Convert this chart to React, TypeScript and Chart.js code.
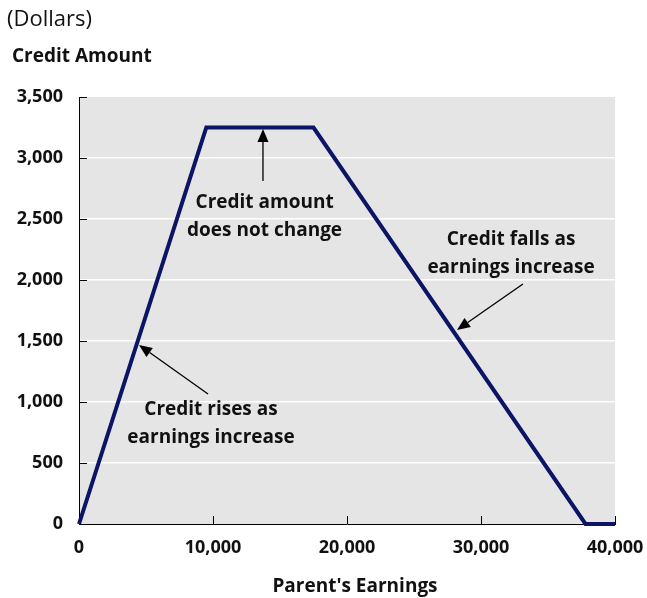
import React, { useEffect, useRef } from "react";
import { Chart, registerables } from "chart.js";

Chart.register(...registerables);

// Data: parent's earnings (x) vs credit amount (y)
const earnings = [0, 9500, 17500, 37800, 40000];
const credit = [0, 3250, 3250, 0, 0];

const xTicks = [0, 10000, 20000, 30000, 40000];
const yTicks = [0, 500, 1000, 1500, 2000, 2500, 3000, 3500];

const unitLabel = "(Dollars)";
const yTitle = "Credit Amount";
const xTitle = "Parent's Earnings";

// Annotations in data coordinates
const noteLines = [
  ["Credit amount", "does not change"],
  ["Credit rises as", "earnings increase"],
  ["Credit falls as", "earnings increase"],
];
const noteAt = [
  [13850, 2631],
  [9850, 934],
  [32240, 2328],
];
const arrowFrom = [
  [13730, 2811],
  [9630, 1066],
  [33130, 1967],
];
const arrowTo = [
  [13730, 3238],
  [4480, 1467],
  [28210, 1590],
];

const FONT = "'Open Sans', sans-serif";
const LINE_COLOR = "#0a1566";

const decorPlugin = {
  id: "decor",
  beforeDraw(chart: any) {
    const { ctx, chartArea } = chart;
    ctx.save();
    ctx.fillStyle = "#e5e5e5";
    ctx.fillRect(chartArea.left, chartArea.top, chartArea.right - chartArea.left, chartArea.bottom - chartArea.top);
    ctx.restore();
  },
  afterDraw(chart: any) {
    const { ctx, chartArea, scales } = chart;
    const xs = scales.x;
    const ys = scales.y;
    ctx.save();
    // inside tick marks
    ctx.strokeStyle = "#000";
    ctx.lineWidth = 1;
    xTicks.forEach((v) => {
      if (v === 0) return;
      const px = Math.round(xs.getPixelForValue(v)) + 0.5;
      ctx.beginPath();
      ctx.moveTo(px, chartArea.bottom);
      ctx.lineTo(px, chartArea.bottom - 8);
      ctx.stroke();
    });
    yTicks.forEach((v) => {
      if (v === 0) return;
      const py = Math.round(ys.getPixelForValue(v)) + 0.5;
      ctx.beginPath();
      ctx.moveTo(chartArea.left, py);
      ctx.lineTo(chartArea.left + 8, py);
      ctx.stroke();
    });

    // titles
    ctx.fillStyle = "#111";
    ctx.textBaseline = "middle";
    ctx.textAlign = "left";
    ctx.font = `400 22px ${FONT}`;
    ctx.fillText(unitLabel, 7, 20);
    ctx.font = `700 19px ${FONT}`;
    ctx.fillText(yTitle, 12, 57);
    ctx.textAlign = "center";
    ctx.fillText(xTitle, 355, 587);

    // annotations
    ctx.font = `700 19px ${FONT}`;
    noteLines.forEach((lines, i) => {
      const cx = xs.getPixelForValue(noteAt[i][0]);
      const cy = ys.getPixelForValue(noteAt[i][1]);
      lines.forEach((t, j) => ctx.fillText(t, cx, cy + j * 28));
      const x1 = xs.getPixelForValue(arrowFrom[i][0]);
      const y1 = ys.getPixelForValue(arrowFrom[i][1]);
      const x2 = xs.getPixelForValue(arrowTo[i][0]);
      const y2 = ys.getPixelForValue(arrowTo[i][1]);
      const ang = Math.atan2(y2 - y1, x2 - x1);
      const head = 13;
      const hw = 5.5;
      const bx = x2 - head * Math.cos(ang);
      const by = y2 - head * Math.sin(ang);
      ctx.strokeStyle = "#000";
      ctx.lineWidth = 1.3;
      ctx.beginPath();
      ctx.moveTo(x1, y1);
      ctx.lineTo(bx, by);
      ctx.stroke();
      ctx.fillStyle = "#000";
      ctx.beginPath();
      ctx.moveTo(x2, y2);
      ctx.lineTo(bx + hw * Math.sin(ang), by - hw * Math.cos(ang));
      ctx.lineTo(bx - hw * Math.sin(ang), by + hw * Math.cos(ang));
      ctx.closePath();
      ctx.fill();
      ctx.fillStyle = "#111";
    });
    ctx.restore();
  },
};

export default function App() {
  const ref = useRef<HTMLCanvasElement | null>(null);
  useEffect(() => {
    if (!ref.current) return;
    const chart = new Chart(ref.current, {
      type: "line",
      data: {
        datasets: [
          {
            data: earnings.map((x, i) => ({ x, y: credit[i] })),
            borderColor: LINE_COLOR,
            borderWidth: 4,
            pointRadius: 0,
            fill: false,
            tension: 0,
            borderJoinStyle: "miter",
            clip: false as any,
          },
        ],
      },
      options: {
        responsive: false,
        animation: false,
        devicePixelRatio: 1,
        layout: { padding: { top: 97, right: 32, left: 0, bottom: 0 } },
        plugins: { legend: { display: false }, tooltip: { enabled: false } },
        scales: {
          x: {
            type: "linear",
            min: 0,
            max: 40000,
            afterBuildTicks: (s: any) => {
              s.ticks = xTicks.map((v) => ({ value: v }));
            },
            afterFit: (s: any) => {
              s.height = 74;
              s.paddingLeft = 0;
              s.paddingRight = 0;
            },
            grid: { display: false, drawTicks: false },
            border: { display: true, color: "#000", width: 1 },
            ticks: {
              padding: 13,
              color: "#111",
              font: { family: FONT, size: 18, weight: "bold" },
              maxRotation: 0,
              callback: (v: any) => Number(v).toLocaleString("en-US"),
            },
          },
          y: {
            type: "linear",
            min: 0,
            max: 3500,
            afterBuildTicks: (s: any) => {
              s.ticks = yTicks.map((v) => ({ value: v }));
            },
            afterFit: (s: any) => {
              s.width = 79;
              s.paddingTop = 0;
              s.paddingBottom = 0;
            },
            grid: {
              drawTicks: false,
              lineWidth: 1.5,
              color: (c: any) =>
                c.tick && (c.tick.value === 0 || c.tick.value === 3500) ? "rgba(0,0,0,0)" : "#ffffff",
            },
            border: { display: true, color: "#000", width: 1 },
            ticks: {
              padding: 16,
              color: "#111",
              font: { family: FONT, size: 18, weight: "bold" },
              callback: (v: any) => Number(v).toLocaleString("en-US"),
            },
          },
        },
      },
      plugins: [decorPlugin],
    });
    return () => chart.destroy();
  }, []);
  return (
    <div style={{ position: "absolute", left: 0, top: 0, width: 647, height: 598, background: "#fff" }}>
      <canvas ref={ref} width={647} height={598} />
    </div>
  );
}
